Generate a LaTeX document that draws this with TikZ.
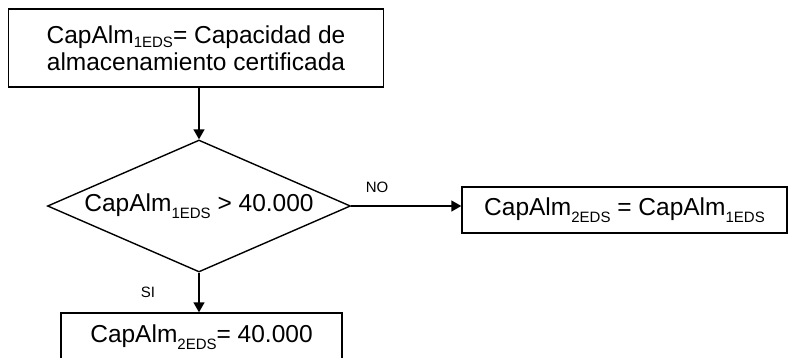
\documentclass[tikz,border=0pt]{standalone}
\usepackage{fontspec}
\setmainfont{Liberation Sans}
\usetikzlibrary{shapes.geometric,arrows.meta}
\newcommand\subtx[2][-7pt]{\raisebox{#1}{\fontsize{15}{15}\selectfont #2}}
\begin{document}
\begin{tikzpicture}[x=1pt,y=-1pt,
  box/.style={draw,line width=1.4pt,inner sep=0pt,font=\fontsize{24.5}{27}\selectfont,align=center},
  dia/.style={draw,diamond,aspect=2.295,line width=1.4pt,inner sep=0pt,font=\fontsize{24.5}{27}\selectfont},
  lbl/.style={font=\fontsize{15}{15}\selectfont,inner sep=0pt},
  arr/.style={line width=1.4pt,-{Triangle[length=10pt,width=11pt]}}]
\useasboundingbox (0,0) rectangle (788,357);
\node[box,minimum width=375pt,minimum height=78pt] (top) at (196,48)
  {CapAlm\subtx[-4pt]{1EDS}= Capacidad de\\almacenamiento certificada};
\node[dia,minimum width=303pt,minimum height=132pt] (dec) at (199,206)
  {CapAlm\subtx{1EDS} > 40.000};
\node[box,minimum width=325pt,minimum height=46pt] (right) at (624.5,210)
  {CapAlm\subtx{2EDS} = CapAlm\subtx{1EDS}};
\node[box,minimum width=281pt,minimum height=48pt] (bot) at (201.5,337)
  {CapAlm\subtx{2EDS}= 40.000};
\draw[arr] (dec.north |- top.south) -- (dec.north);
\draw[arr] (dec.east) -- (dec.east -| right.west);
\draw[arr] (dec.south) -- (dec.south |- bot.north);
\node[lbl] (no) at (377,187) {NO};
\node[lbl] (si) at (148,292) {SI};
\end{tikzpicture}
\end{document}
